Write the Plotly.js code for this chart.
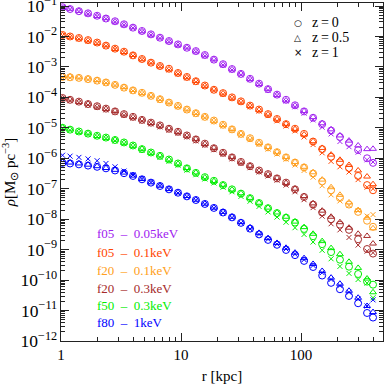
<!DOCTYPE html>
<html>
<head>
<meta charset="utf-8">
<script src="https://cdn.plot.ly/plotly-3.0.1.min.js"></script>
<style>
  html, body { margin: 0; padding: 0; background: #fff; }
  #myDiv { width: 384px; height: 384px; }
</style>
</head>
<body>
<div id="myDiv"></div>
<script>
// radii in kpc
var radius = [1.03, 1.19, 1.41, 1.68, 2.0, 2.37, 2.82, 3.35, 3.98, 4.73, 5.62, 6.68, 7.94, 9.44, 11.2, 13.3, 15.8, 18.8, 22.4, 26.6, 31.6, 37.6, 44.7, 53.1, 63.1, 75.0, 89.1, 106, 126, 150, 178, 211, 251, 299, 355, 398];

// log10 density (z=0, z=0.5, z=1)
var f05_005_z0  = [-1.04,-1.10,-1.17,-1.24,-1.32,-1.41,-1.50,-1.60,-1.71,-1.82,-1.93,-2.04,-2.15,-2.26,-2.37,-2.48,-2.61,-2.76,-2.91,-3.07,-3.23,-3.39,-3.55,-3.73,-3.91,-4.08,-4.26,-4.46,-4.67,-4.88,-5.09,-5.30,-5.50,-5.73,-6.00,-6.15];
var f05_005_z05 = [-1.06,-1.09,-1.16,-1.25,-1.33,-1.40,-1.51,-1.61,-1.70,-1.83,-1.94,-2.03,-2.16,-2.27,-2.36,-2.49,-2.62,-2.75,-2.92,-3.08,-3.22,-3.40,-3.56,-3.72,-3.92,-4.10,-4.27,-4.45,-4.65,-4.85,-5.05,-5.25,-5.42,-5.58,-5.70,-5.69];
var f05_005_z1  = [-1.05,-1.11,-1.18,-1.26,-1.34,-1.42,-1.52,-1.62,-1.72,-1.84,-1.95,-2.06,-2.17,-2.28,-2.39,-2.50,-2.64,-2.79,-2.94,-3.10,-3.26,-3.42,-3.58,-3.77,-3.94,-4.12,-4.31,-4.52,-4.74,-4.98,-5.20,-5.45,-5.62,-5.80,-6.05,-6.12];

var f05_01_z0  = [-1.95,-2.00,-2.05,-2.12,-2.20,-2.30,-2.40,-2.50,-2.62,-2.74,-2.86,-2.97,-3.06,-3.20,-3.33,-3.47,-3.61,-3.75,-3.86,-4.00,-4.13,-4.27,-4.40,-4.55,-4.71,-4.88,-5.03,-5.20,-5.45,-5.70,-5.95,-6.13,-6.32,-6.58,-6.88,-7.05];
var f05_01_z05 = [-1.96,-2.01,-2.06,-2.13,-2.21,-2.29,-2.41,-2.51,-2.61,-2.75,-2.85,-2.98,-3.08,-3.21,-3.34,-3.46,-3.62,-3.74,-3.87,-4.01,-4.14,-4.28,-4.41,-4.56,-4.72,-4.87,-5.04,-5.22,-5.44,-5.66,-5.88,-6.05,-6.22,-6.40,-6.60,-6.85];
var f05_01_z1  = [-1.97,-2.02,-2.08,-2.15,-2.23,-2.32,-2.42,-2.53,-2.64,-2.76,-2.88,-2.99,-3.10,-3.23,-3.36,-3.50,-3.64,-3.78,-3.90,-4.04,-4.17,-4.31,-4.45,-4.60,-4.77,-4.94,-5.10,-5.30,-5.55,-5.82,-6.10,-6.28,-6.45,-6.70,-6.95,-7.00];

var f20_01_z0  = [-3.33,-3.34,-3.36,-3.40,-3.45,-3.51,-3.59,-3.68,-3.77,-3.85,-3.95,-4.06,-4.17,-4.28,-4.40,-4.52,-4.64,-4.76,-4.90,-5.05,-5.20,-5.34,-5.49,-5.64,-5.80,-5.97,-6.14,-6.30,-6.50,-6.76,-7.05,-7.30,-7.52,-7.76,-8.05,-8.25];
var f20_01_z05 = [-3.30,-3.31,-3.34,-3.38,-3.43,-3.50,-3.58,-3.66,-3.76,-3.86,-3.94,-4.05,-4.16,-4.29,-4.39,-4.51,-4.63,-4.77,-4.91,-5.04,-5.19,-5.35,-5.50,-5.63,-5.79,-5.96,-6.12,-6.28,-6.46,-6.70,-6.95,-7.20,-7.45,-7.70,-7.95,-8.30];
var f20_01_z1  = [-3.35,-3.36,-3.38,-3.42,-3.47,-3.53,-3.61,-3.70,-3.79,-3.88,-3.98,-4.09,-4.20,-4.31,-4.43,-4.55,-4.67,-4.80,-4.94,-5.09,-5.24,-5.39,-5.54,-5.70,-5.86,-6.03,-6.22,-6.40,-6.62,-6.90,-7.20,-7.40,-7.55,-7.72,-7.90,-7.85];

var f20_03_z0  = [-4.02,-4.08,-4.14,-4.22,-4.29,-4.37,-4.46,-4.55,-4.64,-4.74,-4.83,-4.92,-5.03,-5.13,-5.25,-5.38,-5.52,-5.67,-5.82,-5.97,-6.12,-6.26,-6.40,-6.52,-6.66,-6.80,-7.02,-7.27,-7.52,-7.78,-8.00,-8.18,-8.35,-8.66,-8.98,-9.13];
var f20_03_z05 = [-4.03,-4.07,-4.15,-4.21,-4.30,-4.38,-4.45,-4.56,-4.65,-4.73,-4.84,-4.93,-5.02,-5.14,-5.26,-5.37,-5.53,-5.66,-5.83,-5.96,-6.13,-6.25,-6.41,-6.53,-6.65,-6.81,-7.00,-7.24,-7.48,-7.72,-7.92,-8.10,-8.28,-8.48,-8.55,-8.80];
var f20_03_z1  = [-4.05,-4.11,-4.17,-4.25,-4.33,-4.41,-4.50,-4.59,-4.68,-4.78,-4.87,-4.97,-5.08,-5.18,-5.30,-5.43,-5.57,-5.72,-5.87,-6.02,-6.17,-6.31,-6.45,-6.58,-6.72,-6.88,-7.10,-7.36,-7.62,-7.90,-8.15,-8.35,-8.60,-8.85,-9.05,-9.10];

var f50_03_z0  = [-5.00,-5.06,-5.12,-5.19,-5.26,-5.32,-5.40,-5.48,-5.58,-5.70,-5.81,-5.92,-6.04,-6.17,-6.33,-6.48,-6.62,-6.74,-6.88,-7.02,-7.16,-7.31,-7.47,-7.64,-7.80,-7.95,-8.11,-8.32,-8.56,-8.82,-9.08,-9.33,-9.56,-9.80,-10.05,-10.15];
var f50_03_z05 = [-4.99,-5.05,-5.13,-5.18,-5.27,-5.33,-5.39,-5.49,-5.59,-5.69,-5.82,-5.91,-6.05,-6.18,-6.32,-6.47,-6.63,-6.75,-6.87,-7.03,-7.15,-7.30,-7.46,-7.62,-7.78,-7.92,-8.08,-8.26,-8.48,-8.72,-8.95,-9.15,-9.40,-9.60,-9.95,-10.40];
var f50_03_z1  = [-5.02,-5.08,-5.15,-5.22,-5.29,-5.35,-5.43,-5.52,-5.62,-5.74,-5.85,-5.97,-6.10,-6.23,-6.39,-6.54,-6.68,-6.81,-6.95,-7.10,-7.25,-7.41,-7.58,-7.76,-7.93,-8.10,-8.28,-8.50,-8.75,-9.02,-9.30,-9.55,-9.78,-9.98,-10.10,-10.58];

var f80_1_z0  = [-6.15,-6.17,-6.20,-6.24,-6.28,-6.33,-6.40,-6.49,-6.58,-6.69,-6.80,-6.91,-7.02,-7.13,-7.25,-7.37,-7.50,-7.63,-7.78,-7.94,-8.12,-8.31,-8.50,-8.68,-8.84,-9.01,-9.18,-9.37,-9.57,-9.85,-10.09,-10.30,-10.52,-10.76,-11.08,-11.23];
var f80_1_z05 = [-6.12,-6.14,-6.17,-6.21,-6.26,-6.32,-6.38,-6.47,-6.57,-6.68,-6.79,-6.90,-7.01,-7.12,-7.24,-7.36,-7.49,-7.62,-7.76,-7.92,-8.09,-8.27,-8.45,-8.62,-8.78,-8.94,-9.10,-9.28,-9.47,-9.70,-9.92,-10.12,-10.35,-10.58,-10.85,-11.05];
var f80_1_z1  = [-5.90,-5.93,-5.97,-6.02,-6.08,-6.17,-6.28,-6.42,-6.55,-6.67,-6.79,-6.90,-7.02,-7.14,-7.26,-7.38,-7.51,-7.64,-7.79,-7.95,-8.13,-8.32,-8.50,-8.66,-8.82,-8.98,-9.15,-9.33,-9.52,-9.76,-9.98,-10.18,-10.40,-10.62,-10.85,-10.65];

var modelNames = ['f05 \u2013 0.05keV', 'f05 \u2013 0.1keV', 'f20 \u2013 0.1keV', 'f20 \u2013 0.3keV', 'f50 \u2013 0.3keV', 'f80 \u2013 1keV'];
var modelColors = ['#a020f0', '#ff4500', '#ffa020', '#a52a2a', '#00ee00', '#0000ff'];
var modelData = [
  [f05_005_z0, f05_005_z05, f05_005_z1],
  [f05_01_z0, f05_01_z05, f05_01_z1],
  [f20_01_z0, f20_01_z05, f20_01_z1],
  [f20_03_z0, f20_03_z05, f20_03_z1],
  [f50_03_z0, f50_03_z05, f50_03_z1],
  [f80_1_z0, f80_1_z05, f80_1_z1]
];
var zLabels = ['z=0', 'z=0.5', 'z=1'];
var zGlyphs = ['\u25cb', '\u25b3', '\u00d7'];
var zSymbols = ['circle-open', 'triangle-up-open', 'x-thin-open'];
var zSizes = [7, 6, 5];

var serif = 'Liberation Serif, Times New Roman, serif';
var data = [];

for (var m = 0; m < modelData.length; m++) {
  for (var k = 0; k < 3; k++) {
    data.push({
      x: radius,
      y: modelData[m][k].map(function (v) { return Math.pow(10, v); }),
      mode: 'markers',
      type: 'scatter',
      showlegend: false,
      marker: { symbol: zSymbols[k], size: zSizes[k], color: modelColors[m], line: { width: 1, color: modelColors[m] } }
    });
  }
}

var annotations = [];
// model labels, lower left
var labelY = [0.318, 0.262, 0.209, 0.156, 0.106, 0.056];
for (var m = 0; m < modelNames.length; m++) {
  annotations.push({
    xref: 'paper', yref: 'paper', x: 0.105, y: labelY[m],
    xanchor: 'left', yanchor: 'middle', showarrow: false,
    text: modelNames[m].replace(/ /g, '\u00a0\u00a0'),
    font: { family: serif, size: 13, color: modelColors[m] }
  });
}
// redshift key, upper right
var keyY = [0.941, 0.897, 0.853];
for (var k = 0; k < 3; k++) {
  annotations.push({
    xref: 'paper', yref: 'paper', x: 0.736, y: keyY[k],
    xanchor: 'center', yanchor: 'middle', showarrow: false,
    text: zGlyphs[k],
    font: { family: 'DejaVu Sans, sans-serif', size: k === 2 ? 10 : 9, color: '#000' }
  });
  annotations.push({
    xref: 'paper', yref: 'paper', x: 0.772, y: keyY[k],
    xanchor: 'left', yanchor: 'middle', showarrow: false,
    text: zLabels[k].replace('=', '\u2009=\u2009'),
    font: { family: serif, size: 14, color: '#000' }
  });
}

var axisCommon = {
  type: 'log',
  showline: true, linecolor: '#222', linewidth: 1, mirror: 'allticks',
  ticks: 'inside', ticklen: 8, tickcolor: '#222', tickwidth: 1,
  showgrid: false, zeroline: false,
  ticklabeloverflow: 'allow',
  minor: { ticks: 'inside', ticklen: 4, tickcolor: '#222', showgrid: false },
  tickfont: { family: serif, size: 15, color: '#000' }
};

var layout = {
  width: 384, height: 384,
  margin: { l: 61, r: 1, t: 3, b: 43 },
  paper_bgcolor: '#fff', plot_bgcolor: '#fff',
  font: { family: serif, color: '#000' },
  showlegend: false,
  xaxis: Object.assign({}, axisCommon, {
    range: [0, 2.683], dtick: 1,
    title: { text: 'r [kpc]', font: { family: serif, size: 15 }, standoff: 8 }
  }),
  yaxis: Object.assign({}, axisCommon, {
    range: [-12, -0.901], dtick: 1,
    exponentformat: 'power', showexponent: 'all',
    tickfont: { family: serif, size: 14, color: '#000' },
    title: { text: '<i>\u03c1</i>[M<sub>\u2299</sub> pc<sup>\u22123</sup>]', font: { family: serif, size: 15 }, standoff: 4 }
  }),
  annotations: annotations
};

Plotly.newPlot('myDiv', data, layout, { staticPlot: true });
</script>
</body>
</html>
